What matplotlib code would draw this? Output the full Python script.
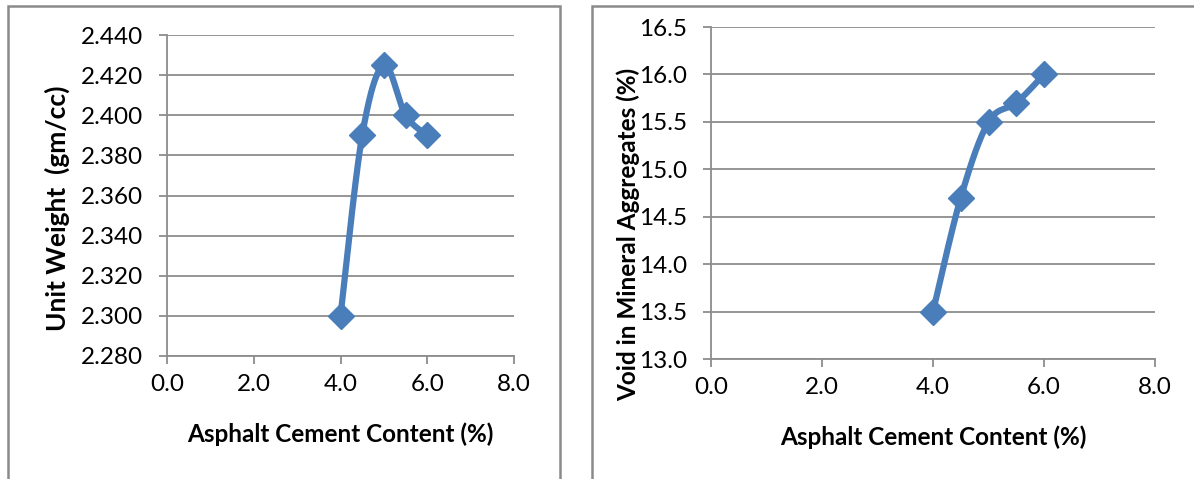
import numpy as np
import matplotlib
matplotlib.use("Agg")
import matplotlib.pyplot as plt
from matplotlib.patches import Rectangle

# Marshall test results vs. asphalt cement content
ac_content = [4.0, 4.5, 5.0, 5.5, 6.0]
unit_weight = [2.300, 2.390, 2.425, 2.400, 2.390]
vma = [13.5, 14.7, 15.5, 15.7, 16.0]

x_ticks = [0.0, 2.0, 4.0, 6.0, 8.0]
uw_ticks = [2.280, 2.300, 2.320, 2.340, 2.360, 2.380, 2.400, 2.420, 2.440]
vma_ticks = [13.0, 13.5, 14.0, 14.5, 15.0, 15.5, 16.0, 16.5]

BLUE = "#4A7EBB"
GRID = "#8C8C8C"
W, H = 1194, 479

plt.rcParams["font.family"] = ["Lato", "DejaVu Sans"]


def smooth_curve(ax, x, y, n=40):
    # Catmull-Rom spline computed in pixel space of the axes
    x0, x1 = ax.get_xlim()
    y0, y1 = ax.get_ylim()
    bb = ax.get_position()
    sx = bb.width * W / (x1 - x0)
    sy = bb.height * H / (y1 - y0)
    p = np.column_stack([(np.asarray(x) - x0) * sx, (np.asarray(y) - y0) * sy])
    p = np.vstack([p[0], p, p[-1]])
    out = []
    for i in range(1, len(p) - 2):
        a, b, c, d = p[i - 1], p[i], p[i + 1], p[i + 2]
        c1 = b + (c - a) / 6.0
        c2 = c - (d - b) / 6.0
        t = np.linspace(0, 1, n)[:, None]
        seg = ((1 - t) ** 3) * b + 3 * ((1 - t) ** 2) * t * c1 + 3 * (1 - t) * t ** 2 * c2 + t ** 3 * c
        out.append(seg)
    out = np.vstack(out)
    return out[:, 0] / sx + x0, out[:, 1] / sy + y0


def style_axes(ax, xlab, ylab, yticks, yfmt, ysize=17.5):
    ax.set_xlim(0, 8)
    ax.set_ylim(yticks[0], yticks[-1])
    ax.set_xticks(x_ticks)
    ax.set_xticklabels([f"{v:.1f}" for v in x_ticks])
    ax.set_yticks(yticks)
    ax.set_yticklabels([yfmt.format(v) for v in yticks])
    ax.grid(axis="y", color=GRID, linewidth=1.3)
    ax.set_axisbelow(True)
    for s in ["top", "right"]:
        ax.spines[s].set_visible(False)
    for s in ["left", "bottom"]:
        ax.spines[s].set_color(GRID)
        ax.spines[s].set_linewidth(1.3)
    ax.tick_params(axis="both", colors=GRID, labelcolor="black", labelsize=17.5,
                   length=6, width=1.3, direction="out")
    ax.tick_params(axis="x", pad=7)
    ax.tick_params(axis="y", pad=11)
    ax.set_xlabel(xlab, fontsize=17.5, fontweight="bold", labelpad=20)
    ax.set_ylabel(ylab, fontsize=ysize, fontweight="bold")


fig = plt.figure(figsize=(W / 100, H / 100), dpi=100)

# chart frames
fig.add_artist(Rectangle((8 / W, -0.05), (560 - 8) / W, 1.05 - 6 / H,
                         transform=fig.transFigure, fill=False,
                         edgecolor="#8A8A8A", linewidth=1.8))
fig.add_artist(Rectangle((592 / W, -0.05), 0.6, 1.05 - 6 / H,
                         transform=fig.transFigure, fill=False,
                         edgecolor="#8A8A8A", linewidth=1.8))

ax1 = fig.add_axes([167 / W, (H - 356) / H, (514 - 167) / W, (356 - 35) / H])
style_axes(ax1, "Asphalt Cement Content (%)", "Unit Weight  (gm/cc)", uw_ticks, "{:.3f}",
           ysize=19)
ax1.yaxis.set_label_coords(-0.28, 0.46)
sx, sy = smooth_curve(ax1, ac_content, unit_weight)
ax1.plot(sx, sy, color=BLUE, linewidth=4.5, solid_capstyle="round", zorder=3)
ax1.plot(ac_content, unit_weight, "D", color=BLUE, markersize=13, zorder=4)

ax2 = fig.add_axes([711 / W, (H - 359) / H, (1155 - 711) / W, (359 - 27) / H])
style_axes(ax2, "Asphalt Cement Content (%)", "Void in Mineral Aggregates (%)", vma_ticks, "{:.1f}")
ax2.yaxis.set_label_coords(-0.16, 0.375)
sx, sy = smooth_curve(ax2, ac_content, vma)
ax2.plot(sx, sy, color=BLUE, linewidth=4.5, solid_capstyle="round", zorder=3)
ax2.plot(ac_content, vma, "D", color=BLUE, markersize=13, zorder=4)

fig.savefig("out.png", dpi=100)
